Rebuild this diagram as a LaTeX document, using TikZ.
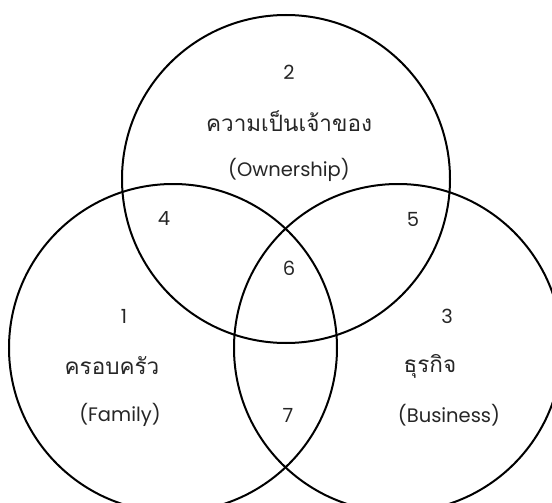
\documentclass[tikz,border=0pt]{standalone}
\usepackage{fontspec}
\setmainfont{Poppins}
\newfontfamily\thaifont[Script=Thai]{Loma}
\begin{document}
\begin{tikzpicture}[x=1pt,y=-1pt,
  venn/.style={circle, draw=black, line width=2pt, minimum size=328pt, inner sep=0pt},
  lbl/.style={font=\fontsize{19.5}{22}\selectfont, text=black!85, inner sep=0pt, anchor=center},
  thl/.style={font=\thaifont\fontsize{22.5}{26}\selectfont, text=black!85, inner sep=0pt, anchor=center}]
\useasboundingbox (0,0) rectangle (552,503);
\clip (0,0) rectangle (552,503);
\fill[white] (0,0) rectangle (552,503);
\node[venn] (owner) at (286,179) {};
\node[venn] (family) at (173,348) {};
\node[venn] (business) at (398,348) {};
\node[lbl] (n2) at (289,72) {2};
\node[thl] (t2) at (289,121) {ความเป็นเจ้าของ};
\node[lbl] (e2) at (289,170) {(Ownership)};
\node[lbl] (n4) at (164,219) {4};
\node[lbl] (n5) at (413,219) {5};
\node[lbl] (n6) at (289,268) {6};
\node[lbl] (n1) at (124,316) {1};
\node[lbl] (n3) at (447,316) {3};
\node[thl] (t1) at (112,366) {ครอบครัว};
\node[thl] (t3) at (430,366) {ธุรกิจ};
\node[lbl] (e1) at (120,415) {(Family)};
\node[lbl] (n7) at (288,415) {7};
\node[lbl] (e3) at (449,415) {(Business)};
\end{tikzpicture}
\end{document}
